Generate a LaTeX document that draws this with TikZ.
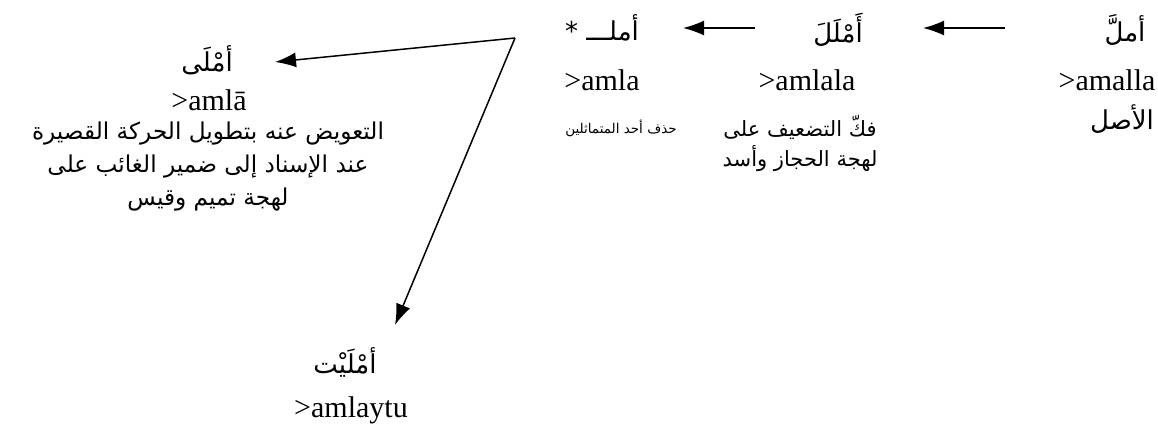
\documentclass[tikz,border=0pt]{standalone}
\usepackage{fontspec}
\setmainfont{Liberation Serif}
\newfontfamily\arabicfont[Script=Arabic]{DejaVu Sans}
\TeXXeTstate=1
\usetikzlibrary{arrows.meta}
\tikzset{
  lat/.style={inner sep=0pt, font=\fontsize{30}{36}\selectfont},
  head/.style={inner sep=0pt, font=\arabicfont\fontsize{26}{32}\selectfont},
  desc/.style={inner sep=0pt, font=\arabicfont\fontsize{21}{26}\selectfont},
  descl/.style={inner sep=0pt, font=\arabicfont\fontsize{23.2}{28}\selectfont},
  small/.style={inner sep=0pt, font=\arabicfont\fontsize{13.5}{16}\selectfont},
  conn/.style={line width=1.5pt, -{Latex[length=21pt,width=15pt]}}
}
\begin{document}
\begin{tikzpicture}[x=1pt,y=-1pt]
\useasboundingbox (0,0) rectangle (1158,432);
% right column
\node[head] (r1) at (1125,30) {أملَّ};
\node[lat]  (r2) at (1107,80) {>amalla};
\node[head] (r3) at (1122,119) {الأصل};
% middle column
\node[head] (m1) at (838,30) {أَمْلَلَ};
\node[lat]  (m2) at (807,80) {>amlala};
\node[desc] (m3) at (800,127) {\beginR فكّ التضعيف على\endR};
\node[desc] (m4) at (800,159) {\beginR لهجة الحجاز وأسد\endR};
% left-middle column
\node[head] (l1) at (602,28) {\beginR أملـــ *\endR};
\node[lat]  (l2) at (602,80) {>amla};
\node[small] (l3) at (621,128) {\beginR حذف أحد المتماثلين\endR};
% left column
\node[head] (a1) at (207,60) {أمْلَى};
\node[lat]  (a2) at (209,100) {>amlā};
\node[descl] (a3) at (208,134) {\beginR التعويض عنه بتطويل الحركة القصيرة\endR};
\node[descl] (a4) at (208,167) {\beginR عند الإسناد إلى ضمير الغائب على\endR};
\node[descl] (a5) at (208,200) {\beginR لهجة تميم وقيس\endR};
% bottom
\node[head] (b1) at (345,362) {أمْلَيْت};
\node[lat]  (b2) at (351,410) {>amlaytu};
% connectors
\coordinate (p1s) at (1005,28);
\coordinate (p1e) at (923,28);
\coordinate (p2s) at (755,28);
\coordinate (p2e) at (683,28);
\coordinate (v) at (515,38);
\coordinate (ve1) at (275,62);
\coordinate (ve2) at (395,325);
\draw[conn] (p1s) -- (p1e);
\draw[conn] (p2s) -- (p2e);
\draw[conn] (v) -- (ve1);
\draw[conn] (v) -- (ve2);
\end{tikzpicture}
\end{document}
